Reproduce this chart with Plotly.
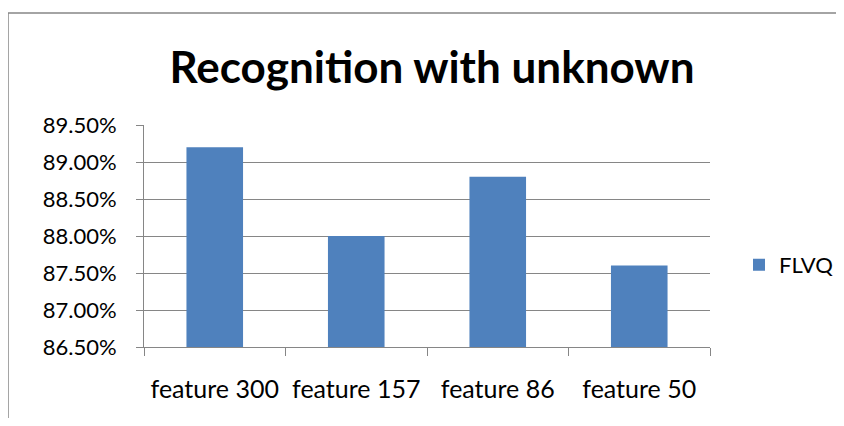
import plotly.graph_objects as go

categories = ["feature 300", "feature 157", "feature 86", "feature 50"]
flvq = [0.892, 0.880, 0.888, 0.876]
tick_vals = [0.865, 0.870, 0.875, 0.880, 0.885, 0.890, 0.895]
tick_text = ["86.50%", "87.00%", "87.50%", "88.00%", "88.50%", "89.00%", "89.50%"]

font_family = "Lato, Calibri, Arial, sans-serif"
axis_color = "#868686"

fig = go.Figure()
fig.add_trace(go.Bar(
    x=categories,
    y=flvq,
    name="FLVQ",
    marker=dict(color="#4F81BD", line=dict(width=0)),
))

# page body has an 8px margin, so the figure is kept small enough to avoid scrollbars
fig.update_layout(
    width=828,
    height=410,
    title=dict(
        text="<b>Recognition with unknown</b>",
        x=424 / 828, xref="container", xanchor="center",
        y=1 - 60 / 410, yref="container", yanchor="middle",
        font=dict(size=44, color="#000000", family=font_family),
    ),
    xaxis=dict(
        showline=True, linecolor=axis_color, linewidth=1,
        ticks="outside", tickson="boundaries", ticklen=8, tickcolor=axis_color,
        tickfont=dict(size=25, color="#000000", family=font_family),
        ticklabelstandoff=20,
        showgrid=False,
    ),
    yaxis=dict(
        range=[0.865, 0.895],
        tickvals=tick_vals, ticktext=tick_text,
        showline=True, linecolor=axis_color, linewidth=1,
        ticks="outside", ticklen=7, tickcolor=axis_color,
        tickfont=dict(size=22, color="#000000", family=font_family),
        ticklabelstandoff=15,
        showgrid=True, gridcolor=axis_color, gridwidth=1,
        zeroline=False,
    ),
    bargap=0.6,
    showlegend=True,
    legend=dict(
        x=731 / 828, xref="container", y=0.37, xanchor="left", yanchor="middle",
        font=dict(size=22, color="#000000", family=font_family),
        itemwidth=30,
    ),
    margin=dict(l=136, r=126, t=117, b=71, autoexpand=False),
    paper_bgcolor="#FFFFFF",
    plot_bgcolor="#FFFFFF",
    shapes=[dict(
        type="rect", xref="paper", yref="paper",
        x0=-0.2403, x1=1.5, y0=-0.7, y1=1.5045,
        line=dict(color="#868686", width=1.5),
        fillcolor="rgba(0,0,0,0)", layer="below",
    )],
)

fig.write_html("out.html")
